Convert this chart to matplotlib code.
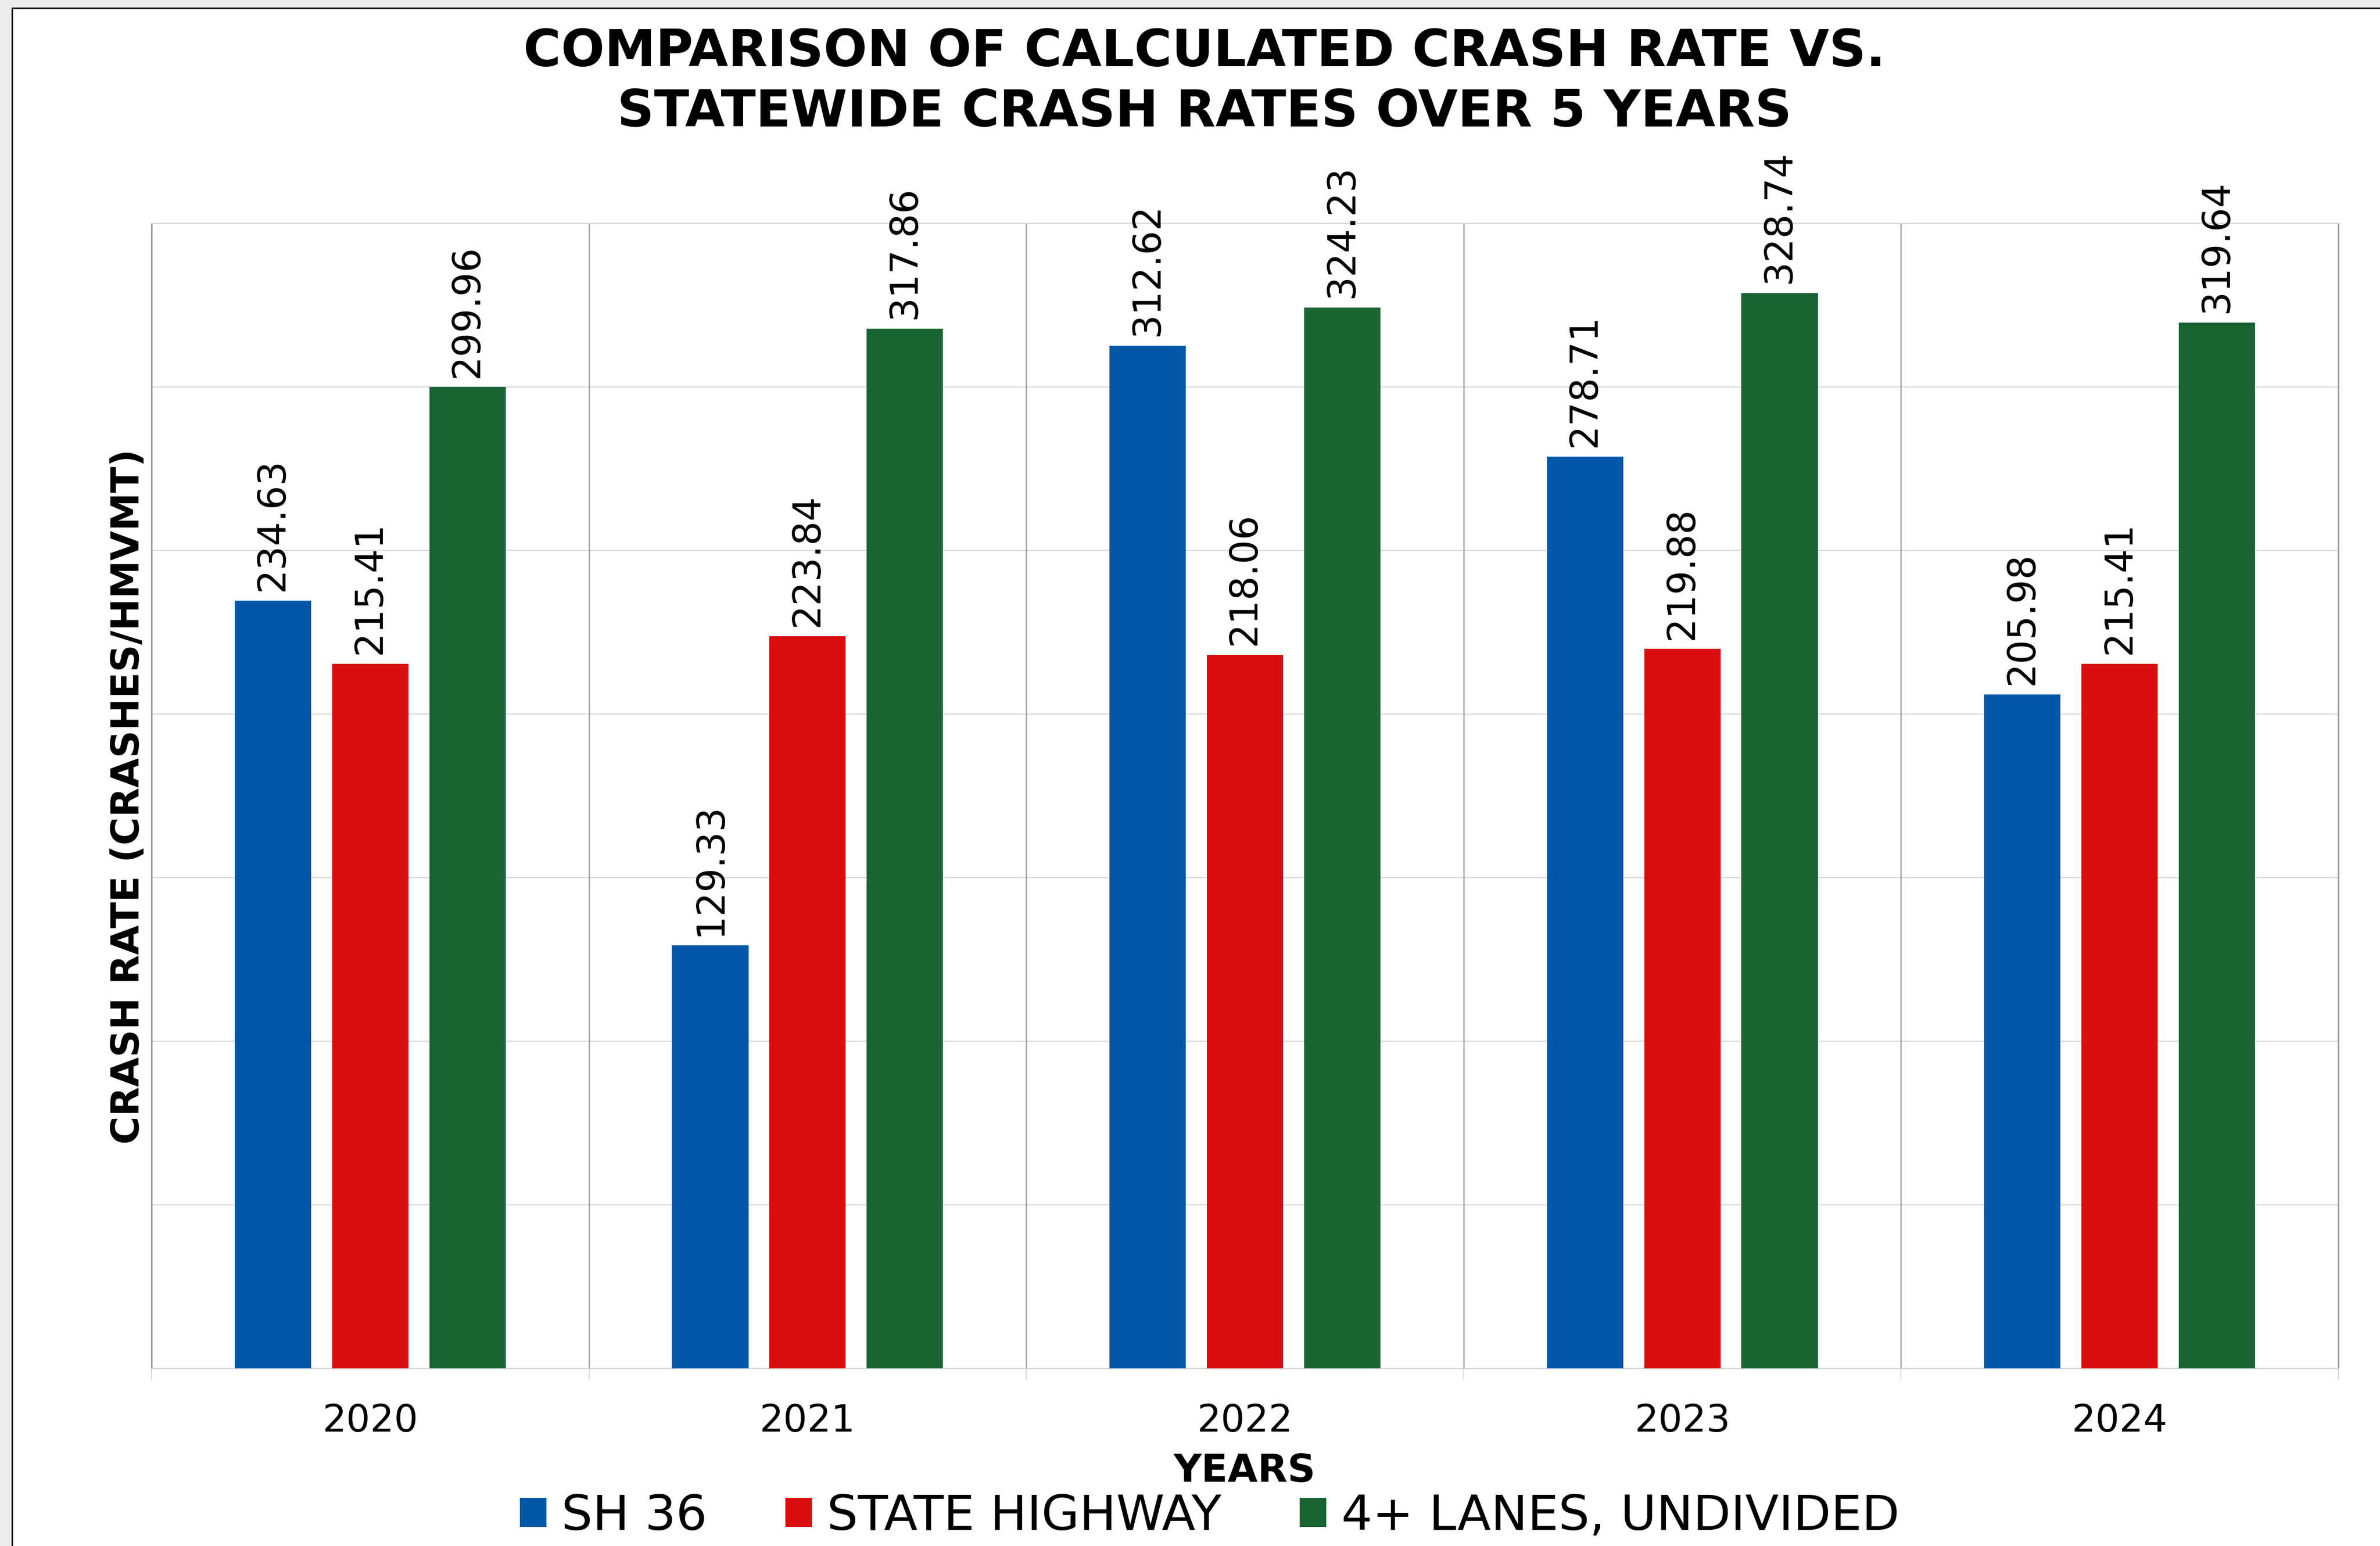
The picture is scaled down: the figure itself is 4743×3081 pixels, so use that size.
import matplotlib
matplotlib.use('Agg')
import matplotlib.pyplot as plt
from matplotlib.patches import Rectangle
import numpy as np

### Chart data ###

years = ['2020', '2021', '2022', '2023', '2024']
sh36 = [234.63, 129.33, 312.62, 278.71, 205.98]
state_highway = [215.41, 223.84, 218.06, 219.88, 215.41]
four_lanes_undivided = [299.96, 317.86, 324.23, 328.74, 319.64]
series_names = ['SH 36', 'STATE HIGHWAY', '4+ LANES, UNDIVIDED']
series_colors = ['#0257A9', '#D90E11', '#1B6535']

plt.rcParams['font.family'] = ['DejaVu Sans']

W, H = 4743, 3081
fig = plt.figure(figsize=(W / 300, H / 300), dpi=300)
fig.patch.set_facecolor('#EBEBEB')
# white chart area with a thin black frame (right/bottom run off the picture)
fig.add_artist(Rectangle((24 / W, -0.02), 1.1, 1 - 16 / H + 0.02, transform=fig.transFigure,
                         facecolor='white', edgecolor='black', linewidth=0.7, zorder=-10))

ax = fig.add_axes([302 / W, 1 - 2727 / H, (4660 - 302) / W, (2727 - 445) / H])
ax.set_facecolor('white')

x = np.arange(len(years))
step = 0.2225
width = 0.1745
for i, (vals, name, color) in enumerate(zip([sh36, state_highway, four_lanes_undivided], series_names, series_colors)):
    bars = ax.bar(x + (i - 1) * step, vals, width=width, color=color, label=name, zorder=3)
    for b, v in zip(bars, vals):
        ax.annotate(f'{v:.2f}', (b.get_x() + b.get_width() / 2, v), xytext=(0, 4.5),
                    textcoords='offset points', rotation=90, ha='center', va='bottom',
                    fontsize=18.2, color='black')

ax.set_xlim(-0.5, len(years) - 0.5)
ax.set_ylim(0, 350)
ax.set_yticks(np.arange(0, 351, 50))
ax.tick_params(axis='y', length=0, labelleft=False)
ax.grid(axis='y', color='#D9D9D9', linewidth=0.5, zorder=0)
ax.set_axisbelow(True)

# category separators
for sep in np.arange(0.5, len(years) - 0.5, 1):
    ax.axvline(sep, color='#A0A0A0', linewidth=0.6, zorder=1)

ax.set_xticks(x, years)
ax.set_xticks(np.arange(-0.5, len(years), 1), minor=True)
ax.tick_params(axis='x', which='major', length=0, pad=16.6, labelsize=18)
ax.tick_params(axis='x', which='minor', length=5.5, width=0.5, color='#D9D9D9')

for side in ['left', 'right']:
    ax.spines[side].set_color('#999999')
    ax.spines[side].set_linewidth(0.7)
ax.spines['bottom'].set_color('#D9D9D9')
ax.spines['bottom'].set_linewidth(0.6)
ax.spines['top'].set_color('#D9D9D9')
ax.spines['top'].set_linewidth(0.5)

fig.text(2400 / W, 1 - 132 / H, 'COMPARISON OF CALCULATED CRASH RATE VS.', ha='center', va='baseline',
         fontsize=24.5, fontweight='bold')
fig.text(2400 / W, 1 - 252 / H, 'STATEWIDE CRASH RATES OVER 5 YEARS', ha='center', va='baseline',
         fontsize=24.5, fontweight='bold')
fig.text(256 / W, 1 - 1587 / H, 'CRASH RATE (CRASHES/HMVMT)', rotation=90, ha='center', va='center',
         fontsize=18.3, fontweight='bold')
fig.text(2480 / W, 1 - 2953 / H, 'YEARS', ha='center', va='baseline', fontsize=18.5, fontweight='bold')

handles, labels = ax.get_legend_handles_labels()
fig.legend(handles, labels, loc='center', bbox_to_anchor=(2411 / W, 1 - 3022 / H), ncol=3, frameon=False,
           fontsize=23.4, handlelength=0.54, handleheight=0.54, handletextpad=0.31, columnspacing=1.6,
           borderpad=0, borderaxespad=0)

fig.savefig('out.png', dpi=300, facecolor=fig.get_facecolor())
